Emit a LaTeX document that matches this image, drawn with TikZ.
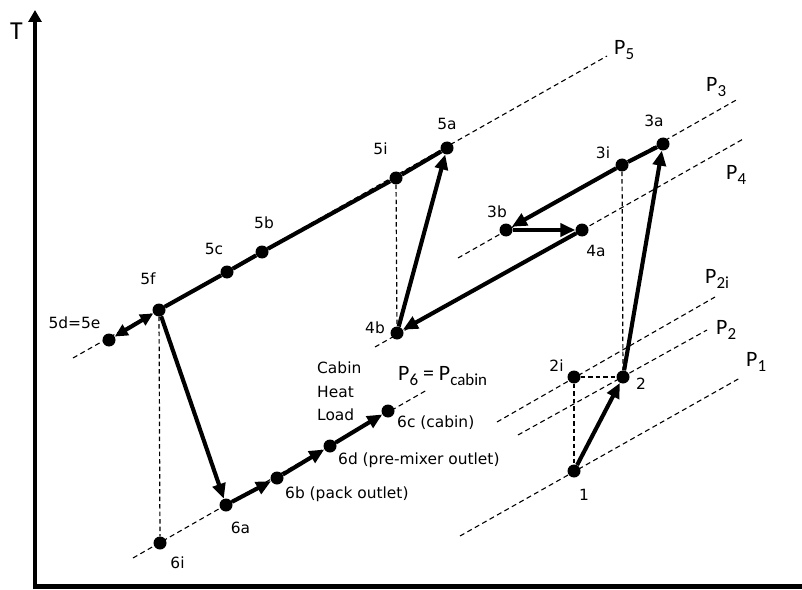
\documentclass[tikz,border=0pt]{standalone}
\usepackage{fontspec}
\setmainfont{DejaVu Sans}
\newfontfamily\pfont{Carlito}
\usetikzlibrary{arrows.meta, positioning}
\tikzset{
  dot/.style={circle, fill=black, inner sep=0pt, minimum size=13bp},
  ptlabel/.style={font=\fontsize{15.5}{18}\selectfont, inner sep=0pt},
  plabel/.style={font=\pfont\fontsize{22}{24}\selectfont, inner sep=0pt, anchor=base west},
  isobar/.style={dash pattern=on 5bp off 3.5bp, line width=1.1bp},
  guide/.style={dash pattern=on 4.5bp off 3bp, line width=1.2bp},
  pathline/.style={line width=4.1bp},
  process/.style={line width=4.1bp, -{Triangle[length=15bp,width=13bp]}},
  axis/.style={line width=4.5bp}
}
\newcommand{\Pname}[1]{P\raisebox{-5bp}{\fontsize{17}{17}\selectfont #1}}

\begin{document}
\begin{tikzpicture}[x=1bp, y=-1bp]
  \useasboundingbox (0,0) rectangle (802,590);

  % Axes
  \coordinate (tmax) at (35,10);
  \coordinate (origin) at (35,586.5);
  \coordinate (sright) at (802,586.5);
  \draw[axis, {Triangle[length=12bp,width=13bp]}-] (tmax) -- (origin) -- (sright);
  \node[font=\pfont\fontsize{26}{26}\selectfont, inner sep=0pt] (tlab) at (16.5,31.5) {T};

  % State points
  \node[dot] (p5a) at (447,148) {};
  \node[dot] (p5i) at (396,178) {};
  \node[dot] (p5b) at (262,252) {};
  \node[dot] (p5c) at (227,272) {};
  \node[dot] (p5f) at (159,310) {};
  \node[dot] (p5d) at (109,340) {};
  \node[dot] (p4b) at (397,333) {};
  \node[dot] (p3a) at (663,144) {};
  \node[dot] (p3i) at (622,165) {};
  \node[dot] (p3b) at (506,230) {};
  \node[dot] (p4a) at (582,230) {};
  \node[dot] (p2i) at (574,377) {};
  \node[dot] (p2) at (623,377) {};
  \node[dot] (p1) at (574,471) {};
  \node[dot] (p6a) at (226,505) {};
  \node[dot] (p6b) at (277,478) {};
  \node[dot] (p6d) at (330,446) {};
  \node[dot] (p6c) at (388,411) {};
  \node[dot] (p6i) at (160,543) {};

  % Isobars
  \coordinate (P5lo) at (73,358);   \coordinate (P5hi) at (607,56);
  \coordinate (P3lo) at (458,258);  \coordinate (P3hi) at (738,99);
  \coordinate (P4lo) at (375,347);  \coordinate (P4hi) at (745,138);
  \coordinate (P2ilo) at (497,422); \coordinate (P2ihi) at (715,297);
  \coordinate (P2lo) at (518,435);  \coordinate (P2hi) at (707,330);
  \coordinate (P1lo) at (460,536);  \coordinate (P1hi) at (740,378);
  \coordinate (P6lo) at (133,558);  \coordinate (P6hi) at (427,390);
  \draw[isobar] (P5lo) -- (P5hi);
  \draw[isobar] (P3lo) -- (P3hi);
  \draw[isobar] (P4lo) -- (P4hi);
  \draw[isobar] (P2ilo) -- (P2ihi);
  \draw[isobar] (P2lo) -- (P2hi);
  \draw[isobar] (P1lo) -- (P1hi);
  \draw[isobar] (P6lo) -- (P6hi);

  % Ideal-process guides
  \draw[guide] (p5i) -- (p4b);
  \draw[guide] (p5f) -- (p6i);
  \draw[guide] (p3i) -- (p2);
  \draw[guide] (p2i) -- (p1);
  \draw[guide] (p2i) -- (p2);

  % Paths
  \draw[pathline] (p5a) -- (p5i) -- (p5b) -- (p5c) -- (p5f);
  \draw[process, {Triangle[length=13bp,width=12bp]}-{Triangle[length=13bp,width=12bp]}] (p5f) -- (p5d);
  \draw[process] (p5f) -- (p6a);
  \draw[process] (p6a) -- (p6b);
  \draw[process] (p6b) -- (p6d);
  \draw[process] (p6d) -- (p6c);
  \draw[process] (p1) -- (p2);
  \draw[process] (p2) -- (p3a);
  \draw[pathline] (p3a) -- (p3i);
  \draw[process] (p3i) -- (p3b);
  \draw[process] (p3b) -- (p4a);
  \draw[process] (p4a) -- (p4b);
  \draw[process] (p4b) -- (p5a);

  % Point labels
  \node[ptlabel] (l5a) at (447,124) {5a};
  \node[ptlabel] (l5i) at (380.5,149) {5i};
  \node[ptlabel] (l5b) at (264,223) {5b};
  \node[ptlabel] (l5c) at (214,248.5) {5c};
  \node[ptlabel] (l5f) at (148,279) {5f};
  \node[ptlabel] (l5d) at (74.5,322.5) {5d=5e};
  \node[ptlabel] (l4b) at (375,327.5) {4b};
  \node[ptlabel] (l3a) at (654,121) {3a};
  \node[ptlabel] (l3i) at (603,153) {3i};
  \node[ptlabel] (l3b) at (497,211.5) {3b};
  \node[ptlabel] (l4a) at (596,251) {4a};
  \node[ptlabel] (l2i) at (556.5,365.5) {2i};
  \node[ptlabel] (l2) at (641,383.5) {2};
  \node[ptlabel] (l1) at (584,495) {1};
  \node[ptlabel] (l6a) at (240.5,527.5) {6a};
  \node[ptlabel] (l6i) at (177.5,562.5) {6i};
  \node[ptlabel, anchor=west] (l6b) at (285,494) {6b (pack outlet)};
  \node[ptlabel, anchor=west] (l6d) at (338,460) {6d (pre-mixer outlet)};
  \node[ptlabel, anchor=west] (l6c) at (397,423) {6c (cabin)};
  \node[ptlabel, font=\fontsize{15.5}{23.5}\selectfont, align=left, anchor=north west] (load) at (317,362) {Cabin\\Heat\\Load};

  % Pressure labels
  \node[plabel] (lP5) at (614,55) {\Pname{5}};
  \node[plabel] (lP3) at (706,92) {\Pname{3}};
  \node[plabel] (lP4) at (726,180) {\Pname{4}};
  \node[plabel] (lP2i) at (705,283) {\Pname{2i}};
  \node[plabel] (lP2) at (716,334) {\Pname{2}};
  \node[plabel] (lP1) at (746,366) {\Pname{1}};
  \node[plabel] (lP6) at (398,380) {\Pname{6} = \Pname{cabin}};
\end{tikzpicture}
\end{document}
